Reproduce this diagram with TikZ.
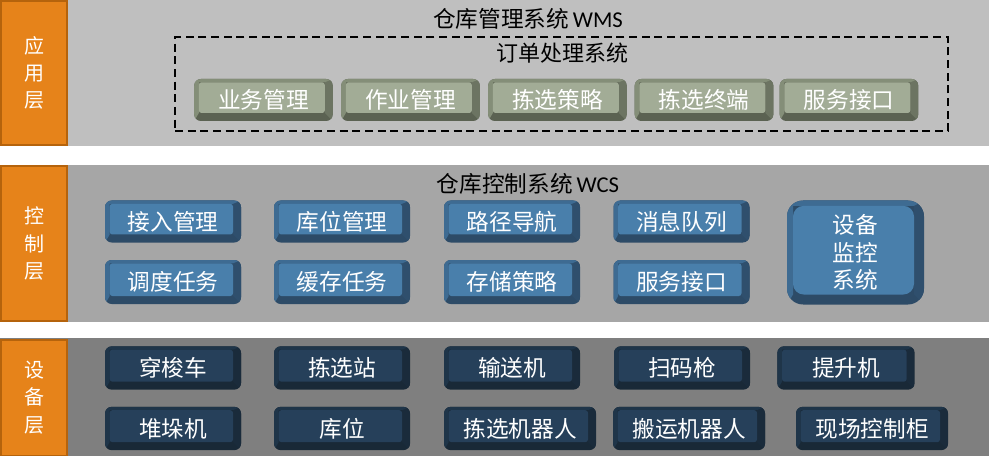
\documentclass[tikz,border=0pt]{standalone}
\usepackage{fontspec}
\setmainfont{Carlito}
\newfontfamily\cjk{Noto Sans CJK SC}
\definecolor{bandA}{HTML}{BFBFBF}
\definecolor{bandB}{HTML}{A6A6A6}
\definecolor{bandC}{HTML}{7F7F7F}
\definecolor{orfill}{HTML}{E6831A}
\definecolor{ordraw}{HTML}{B5630C}
\definecolor{gface}{HTML}{A2AC96}
\definecolor{gside}{HTML}{848E78}
\definecolor{gbot}{HTML}{5B6252}
\definecolor{gright}{HTML}{6C7462}
\definecolor{bface}{HTML}{497FAB}
\definecolor{bside}{HTML}{3E6B92}
\definecolor{bbot}{HTML}{2D4B67}
\definecolor{bright}{HTML}{2F4F6D}
\definecolor{dface}{HTML}{26405A}
\definecolor{dside}{HTML}{1F3549}
\definecolor{dbot}{HTML}{192937}
\definecolor{dright}{HTML}{1A2B3B}
\pgfkeys{/tikz/bvl/.initial=3.5pt, /tikz/bvt/.initial=2.5pt, /tikz/bvr/.initial=6pt,
  /tikz/bvb/.initial=6pt, /tikz/bvc/.initial=2pt}
\tikzset{
  bevel/.style n args={4}{fill=#2, rounded corners=5pt, inner sep=0pt,
    text=white, font=\cjk\fontsize{17pt}{20pt}\selectfont,
    path picture={
      \coordinate (nwc) at (path picture bounding box.north west);
      \coordinate (sec) at (path picture bounding box.south east);
      \coordinate (nec) at (path picture bounding box.north east);
      \coordinate (swc) at (path picture bounding box.south west);
      \fill[#4, sharp corners] (nec) -- (sec)
        -- ([xshift=-\pgfkeysvalueof{/tikz/bvr},yshift=\pgfkeysvalueof{/tikz/bvb}]sec)
        -- ([xshift=-\pgfkeysvalueof{/tikz/bvr},yshift=-\pgfkeysvalueof{/tikz/bvt}]nec) -- cycle;
      \fill[#3, sharp corners] (swc) -- (nwc) -- (nec)
        -- ([xshift=-\pgfkeysvalueof{/tikz/bvr},yshift=-\pgfkeysvalueof{/tikz/bvt}]nec)
        -- ([xshift=\pgfkeysvalueof{/tikz/bvl},yshift=-\pgfkeysvalueof{/tikz/bvt}]nwc)
        -- ([xshift=\pgfkeysvalueof{/tikz/bvl},yshift=\pgfkeysvalueof{/tikz/bvb}]swc) -- cycle;
      \fill[#1, rounded corners=\pgfkeysvalueof{/tikz/bvc}]
        ([xshift=\pgfkeysvalueof{/tikz/bvl},yshift=-\pgfkeysvalueof{/tikz/bvt}]nwc) rectangle
        ([xshift=-\pgfkeysvalueof{/tikz/bvr},yshift=\pgfkeysvalueof{/tikz/bvb}]sec);
    }},
  gbtn/.style={bevel={gface}{gbot}{gside}{gright}, minimum height=31.5pt, minimum width=104pt},
  bbtn/.style={bevel={bface}{bbot}{bside}{bright}, minimum height=31.5pt, minimum width=102pt},
  dbtn/.style={bevel={dface}{dbot}{dside}{dright}, minimum height=32.5pt, minimum width=102pt},
  layerbox/.style={fill=orfill, draw=ordraw, line width=1.5pt, inner sep=0pt, minimum width=49.5pt,
    text=white, align=center, font=\cjk\fontsize{15pt}{20.5pt}\selectfont},
  title/.style={font=\fontsize{17pt}{20pt}\selectfont, text=black, inner sep=0pt},
  subtitle/.style={font=\cjk\fontsize{16.5pt}{19pt}\selectfont, text=black, inner sep=0pt},
  dashbox/.style={draw=black, line width=1.2pt, dash pattern=on 6pt off 3.5pt, inner sep=0pt}
}
\begin{document}
\begin{tikzpicture}[x=0.75pt,y=-0.75pt]
\useasboundingbox (0,0) rectangle (989,456);
% bands
\fill[bandA] (0,0) rectangle (989,146);
\fill[bandB] (0,165) rectangle (989,322);
\fill[bandC] (0,338) rectangle (989,456);
% layer labels
\node[layerbox, minimum height=107.5pt] (la) at (34,73) {应\\用\\层};
\node[layerbox, minimum height=116.5pt] (lb) at (34,243.5) {控\\制\\层};
\node[layerbox, minimum height=87pt] (lc) at (34,397.5) {设\\备\\层};
% application layer
\node[title] (wms) at (528,19) {{\cjk 仓库管理系统}\,WMS};
\node[dashbox, minimum width=579.75pt, minimum height=70.5pt] (orders) at (561.5,84) {};
\node[subtitle] (ordt) at (562,53) {订单处理系统};
\node[gbtn] (g1) at (263.5,100) {业务管理};
\node[gbtn] (g2) at (410.5,100) {作业管理};
\node[gbtn] (g3) at (557.5,100) {拣选策略};
\node[gbtn] (g4) at (704,100) {拣选终端};
\node[gbtn] (g5) at (849,100) {服务接口};
% control layer
\node[title] (wcs) at (528,184) {{\cjk 仓库控制系统}\,WCS};
\node[bbtn] (b1) at (173,221.5) {接入管理};
\node[bbtn] (b2) at (342,221.5) {库位管理};
\node[bbtn] (b3) at (512,221.5) {路径导航};
\node[bbtn] (b4) at (681.5,221.5) {消息队列};
\node[bbtn, minimum height=33pt] (b5) at (173,282) {调度任务};
\node[bbtn, minimum height=33pt] (b6) at (342,282) {缓存任务};
\node[bbtn, minimum height=33pt] (b7) at (512,282) {存储策略};
\node[bbtn, minimum height=33pt] (b8) at (681.5,282) {服务接口};
\node[bbtn, rounded corners=12pt, bvl=4.5pt, bvt=4pt, bvr=7.5pt, bvb=7.5pt, bvc=8pt,
  minimum width=102.75pt, minimum height=78pt, align=center,
  font=\cjk\fontsize{17pt}{20.6pt}\selectfont] (mon) at (855.5,252.5) {设备\\监控\\系统};
% device layer
\node[dbtn] (d1) at (173,368) {穿梭车};
\node[dbtn] (d2) at (342,368) {拣选站};
\node[dbtn] (d3) at (512,368) {输送机};
\node[dbtn] (d4) at (682,368) {扫码枪};
\node[dbtn, minimum width=103pt] (d5) at (846,368) {提升机};
\node[dbtn] (d6) at (173,428.5) {堆垛机};
\node[dbtn] (d7) at (342,428.5) {库位};
\node[dbtn, minimum width=114pt] (d8) at (520,428.5) {拣选机器人};
\node[dbtn, minimum width=114pt] (d9) at (689,428.5) {搬运机器人};
\node[dbtn, minimum width=114pt] (d10) at (872,428.5) {现场控制柜};
\end{tikzpicture}
\end{document}
